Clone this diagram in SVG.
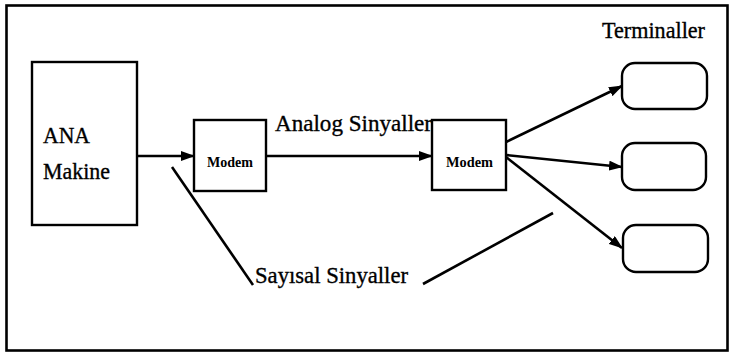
<svg xmlns="http://www.w3.org/2000/svg" width="733" height="356" viewBox="0 0 733 356">
<style>
.box{fill:#fff;stroke:#000;stroke-width:2.4}
.t{font-family:"Liberation Serif","Times New Roman",serif;fill:#000;stroke:#000;stroke-width:0.35}
.big{font-size:23px}
.small{font-size:14px;font-weight:bold;stroke-width:0}
.c{stroke:#000;stroke-width:2.6;fill:none}
</style>
<defs>
<marker id="ah" markerWidth="14" markerHeight="10" refX="13" refY="5" orient="auto" markerUnits="userSpaceOnUse">
<path d="M0,0 L14,5 L0,10 Z" fill="#000"/>
</marker>
</defs>
<rect x="6.5" y="5.5" width="721" height="345" fill="#fff" stroke="#000" stroke-width="2.6"/>
<g id="ana">
<rect class="box" x="32" y="62" width="105" height="163"/>
<text class="t big" x="43" y="143" textLength="47" lengthAdjust="spacingAndGlyphs">ANA</text>
<text class="t big" x="43" y="179" textLength="67" lengthAdjust="spacingAndGlyphs">Makine</text>
</g>
<g id="modem1">
<rect class="box" x="194" y="120" width="72" height="71"/>
<text class="t small" x="207" y="167" textLength="46" lengthAdjust="spacingAndGlyphs">Modem</text>
</g>
<g id="modem2">
<rect class="box" x="432" y="120" width="74" height="70"/>
<text class="t small" x="446" y="167" textLength="47" lengthAdjust="spacingAndGlyphs">Modem</text>
</g>
<g id="term1"><rect class="box" x="622" y="63" width="85" height="46" rx="13"/></g>
<g id="term2"><rect class="box" x="622" y="143" width="84" height="47" rx="13"/></g>
<g id="term3"><rect class="box" x="623" y="225" width="85" height="47" rx="13"/></g>
<g id="labels">
<text class="t big" x="602" y="38" textLength="103" lengthAdjust="spacingAndGlyphs">Terminaller</text>
<text class="t big" x="275" y="131" textLength="157" lengthAdjust="spacingAndGlyphs">Analog Sinyaller</text>
<text class="t big" x="255" y="283" textLength="153" lengthAdjust="spacingAndGlyphs">Sayısal Sinyaller</text>
</g>
<g id="connectors">
<line class="c" x1="137" y1="156" x2="194" y2="156" marker-end="url(#ah)"/>
<line class="c" x1="266" y1="156" x2="432" y2="156" marker-end="url(#ah)"/>
<line class="c" x1="506" y1="142" x2="622" y2="86" marker-end="url(#ah)"/>
<line class="c" x1="506" y1="155" x2="622" y2="167" marker-end="url(#ah)"/>
<line class="c" x1="506" y1="157" x2="622" y2="248" marker-end="url(#ah)"/>
<line class="c" x1="172" y1="167" x2="253" y2="285"/>
<line class="c" x1="423" y1="284" x2="553" y2="213"/>
</g>
</svg>
